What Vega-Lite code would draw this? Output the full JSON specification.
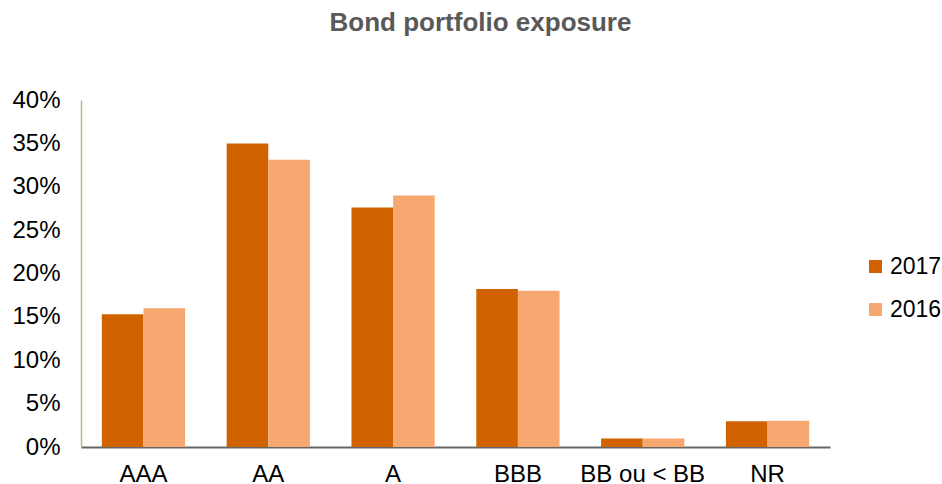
{
  "$schema": "https://vega.github.io/schema/vega-lite/v6.json",
  "width": 749,
  "height": 347,
  "autosize": {"type": "none"},
  "padding": {"left": 81, "top": 100, "right": 112, "bottom": 37},
  "background": "white",
  "title": {
    "text": "Bond portfolio exposure",
    "font": "Liberation Sans",
    "fontSize": 26,
    "fontWeight": "bold",
    "color": "#595959",
    "anchor": "middle",
    "frame": "group",
    "dx": 25,
    "offset": 52
  },
  "data": {
    "values": [
      {"rating": "AAA", "year": "2017", "value": 0.153},
      {"rating": "AAA", "year": "2016", "value": 0.160},
      {"rating": "AA", "year": "2017", "value": 0.350},
      {"rating": "AA", "year": "2016", "value": 0.331},
      {"rating": "A", "year": "2017", "value": 0.276},
      {"rating": "A", "year": "2016", "value": 0.290},
      {"rating": "BBB", "year": "2017", "value": 0.182},
      {"rating": "BBB", "year": "2016", "value": 0.180},
      {"rating": "BB ou < BB", "year": "2017", "value": 0.0097},
      {"rating": "BB ou < BB", "year": "2016", "value": 0.0097},
      {"rating": "NR", "year": "2017", "value": 0.0296},
      {"rating": "NR", "year": "2016", "value": 0.0304}
    ]
  },
  "mark": {"type": "bar"},
  "encoding": {
    "x": {
      "field": "rating",
      "type": "nominal",
      "sort": ["AAA", "AA", "A", "BBB", "BB ou < BB", "NR"],
      "scale": {"paddingInner": 0.333, "paddingOuter": 0.167},
      "axis": {
        "title": null,
        "labelAngle": 0,
        "labelFont": "Liberation Sans",
        "labelFontSize": 24,
        "labelColor": "#000000",
        "labelPadding": 15,
        "ticks": false,
        "domainColor": "#666666",
        "domainWidth": 2
      }
    },
    "xOffset": {"field": "year", "type": "nominal", "sort": ["2017", "2016"]},
    "y": {
      "field": "value",
      "type": "quantitative",
      "scale": {"domain": [0, 0.4], "nice": false},
      "axis": {
        "title": null,
        "format": ".0%",
        "values": [0, 0.05, 0.1, 0.15, 0.2, 0.25, 0.3, 0.35, 0.4],
        "grid": false,
        "ticks": false,
        "labelFont": "Liberation Sans",
        "labelFontSize": 24,
        "labelColor": "#000000",
        "labelPadding": 21,
        "domainColor": "#BDB48E",
        "domainWidth": 1.5
      }
    },
    "color": {
      "field": "year",
      "type": "nominal",
      "scale": {"domain": ["2017", "2016"], "range": ["#D06300", "#F7A770"]},
      "legend": {
        "title": null,
        "orient": "none",
        "legendX": 783,
        "legendY": 155,
        "symbolType": "square",
        "symbolSize": 169,
        "symbolStrokeWidth": 0,
        "labelFont": "Liberation Sans",
        "labelFontSize": 23,
        "labelColor": "#000000",
        "labelOffset": 3,
        "rowPadding": 19
      }
    }
  },
  "config": {"view": {"stroke": null}}
}
